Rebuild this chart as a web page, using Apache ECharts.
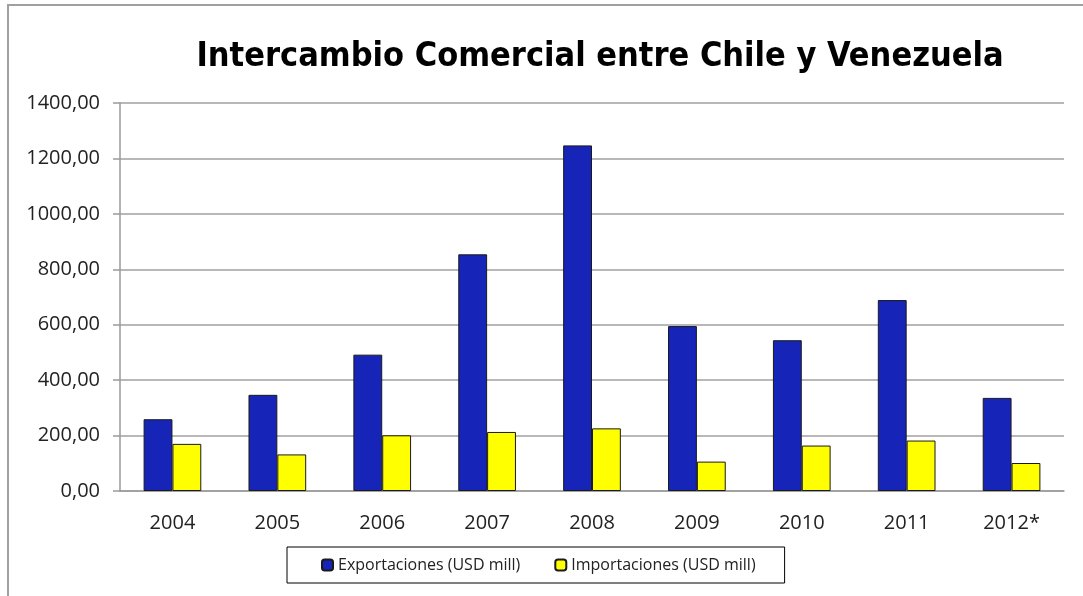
<!DOCTYPE html>
<html>
<head>
<meta charset="utf-8">
<script src="https://cdn.jsdelivr.net/npm/echarts@6/dist/echarts.min.js"></script>
<style>
  html, body { margin: 0; padding: 0; background: #fff; }
  #chart { width: 1083px; height: 596px; }
</style>
</head>
<body>
<div id="chart"></div>
<script>
  // datos
  const years = ['2004', '2005', '2006', '2007', '2008', '2009', '2010', '2011', '2012*'];
  const exportaciones = [259, 347, 492, 854, 1247, 595, 544, 689, 336];
  const importaciones = [170, 132, 201, 213, 226, 106, 164, 182, 101];
  const yTicks = [0, 200, 400, 600, 800, 1000, 1200, 1400];

  const labelFont = "'Open Sans', 'Noto Sans', sans-serif";
  const myChart = echarts.init(document.getElementById('chart'));

  const option = {
    backgroundColor: '#ffffff',
    animation: false,
    title: {
      text: 'Intercambio Comercial entre Chile y Venezuela',
      left: 595,
      textAlign: 'center',
      top: 35,
      textStyle: {
        fontFamily: "'Liberation Sans Narrow', 'DejaVu Sans Condensed', 'Liberation Sans', sans-serif",
        fontWeight: 'bold',
        fontSize: 34,
        color: '#000'
      }
    },
    // borde exterior del area del grafico
    graphic: [{
      type: 'rect',
      shape: { x: 8, y: 5, width: 1090, height: 600 },
      style: { fill: 'none', stroke: '#a0a0a0', lineWidth: 2 },
      silent: true
    }],
    legend: {
      left: 287,
      top: 547,
      padding: [10, 29, 10, 34],
      borderColor: '#000',
      borderWidth: 1,
      itemWidth: 11,
      itemHeight: 11,
      itemGap: 34,
      textStyle: {
        fontFamily: labelFont,
        fontSize: 16,
        color: '#222'
      },
      data: ['Exportaciones (USD mill)', 'Importaciones (USD mill)']
    },
    grid: {
      left: 120,
      right: 19,
      top: 103,
      bottom: 105
    },
    xAxis: {
      type: 'category',
      data: years,
      axisLine: { lineStyle: { color: '#9a9a9a', width: 1.5 } },
      axisTick: { show: false },
      axisLabel: {
        margin: 22,
        fontFamily: labelFont,
        fontSize: 20,
        color: '#222'
      }
    },
    yAxis: {
      type: 'value',
      min: yTicks[0],
      max: yTicks[yTicks.length - 1],
      interval: 200,
      axisLine: { show: true, lineStyle: { color: '#9a9a9a', width: 1.5 } },
      axisTick: { show: true, length: 7, lineStyle: { color: '#9a9a9a', width: 1.5 } },
      splitLine: { show: true, lineStyle: { color: '#a0a0a0', width: 1.5 } },
      axisLabel: {
        margin: 20,
        fontFamily: labelFont,
        fontSize: 20,
        color: '#222',
        formatter: v => v.toFixed(2).replace('.', ',')
      }
    },
    series: [
      {
        name: 'Exportaciones (USD mill)',
        type: 'bar',
        data: exportaciones,
        barGap: '0%',
        barCategoryGap: '45%',
        itemStyle: { color: '#1624B8', borderColor: '#1a1a1a', borderWidth: 1 }
      },
      {
        name: 'Importaciones (USD mill)',
        type: 'bar',
        data: importaciones,
        barGap: '0%',
        barCategoryGap: '45%',
        itemStyle: { color: '#FFFF00', borderColor: '#1a1a1a', borderWidth: 1 }
      }
    ]
  };
  myChart.setOption(option);
</script>
</body>
</html>
